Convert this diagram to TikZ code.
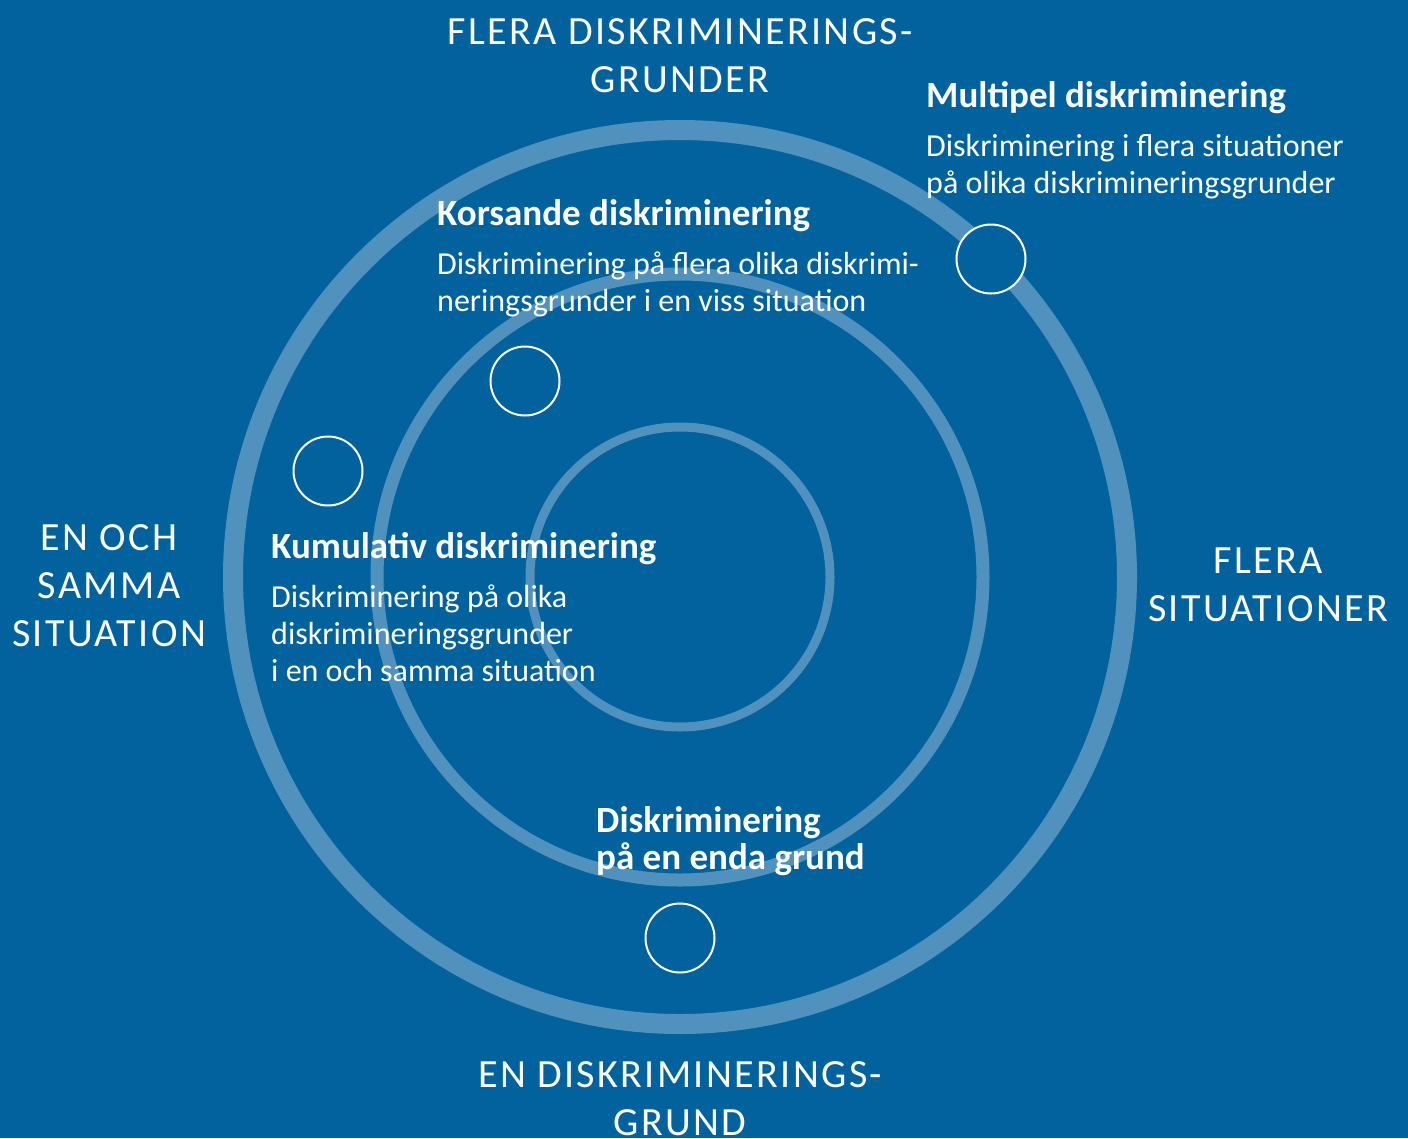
\documentclass[tikz,border=0pt]{standalone}
\usepackage{fontspec}
\setmainfont{Carlito}
\newfontfamily\capsfont[LetterSpace=6]{Carlito}
\definecolor{bgblue}{RGB}{2,98,158}
\definecolor{ringblue}{RGB}{80,146,189}
\newcommand{\leftlines}[1]{\vtop{\halign{##\hfil\cr#1\crcr}}}
\newcommand{\midlines}[1]{\vtop{\halign{\hfil##\hfil\cr#1\crcr}}}
\tikzset{
  ring/.style={draw=ringblue},
  spot/.style={circle, draw=white, line width=2, fill=bgblue, minimum size=69, inner sep=0},
  axislabel/.style={text=white, inner sep=0, anchor=base, font=\capsfont\fontsize{40}{48}\selectfont},
  heading/.style={text=white, inner sep=0, anchor=base west, font=\bfseries\fontsize{37}{37}\selectfont},
  body/.style={text=white, inner sep=0, anchor=base west, font=\fontsize{32}{37}\selectfont}
}
\begin{document}
\begin{tikzpicture}[x=1pt, y=-1pt]
        \fill[bgblue] (0,0) rectangle (1408,1138);
        \useasboundingbox (0,0) rectangle (1408,1138);
        \coordinate (ctr) at (680,577);
        \draw[ring, line width=20] (ctr) circle[radius=447];
        \draw[ring, line width=13] (ctr) circle[radius=303];
        \draw[ring, line width=9] (ctr) circle[radius=150];
        \node[spot] (multispot) at (991,259) {};
        \node[spot] (korsspot) at (525,381) {};
        \node[spot] (kumspot) at (328,471) {};
        \node[spot] (endaspot) at (680,938) {};
        \node[axislabel] (top) at (680,44) {\midlines{FLERA DISKRIMINERINGS-\cr GRUNDER}};
        \node[axislabel] (bottom) at (680,1087) {\midlines{EN DISKRIMINERINGS-\cr GRUND}};
        \node[axislabel] (left) at (109,550) {\midlines{EN OCH\cr SAMMA\cr SITUATION}};
        \node[axislabel] (right) at (1268,573) {\midlines{FLERA\cr SITUATIONER}};
        \node[heading] (multihead) at (926,107) {Multipel diskriminering};
        \node[body] (multitext) at (926,156) {\leftlines{Diskriminering i flera situationer\cr p\r{a} olika diskrimineringsgrunder}};
        \node[heading] (korshead) at (437,225) {Korsande diskriminering};
        \node[body] (korstext) at (437,274) {\leftlines{Diskriminering p\r{a} flera olika diskrimi-\cr neringsgrunder i en viss situation}};
        \node[heading] (kumhead) at (271,558) {Kumulativ diskriminering};
        \node[body] (kumtext) at (271,607) {\leftlines{Diskriminering p\r{a} olika\cr diskrimineringsgrunder\cr i en och samma situation}};
        \node[heading] (endahead) at (596,832) {\leftlines{Diskriminering\cr p\r{a} en enda grund}};
    \end{tikzpicture}
\end{document}
